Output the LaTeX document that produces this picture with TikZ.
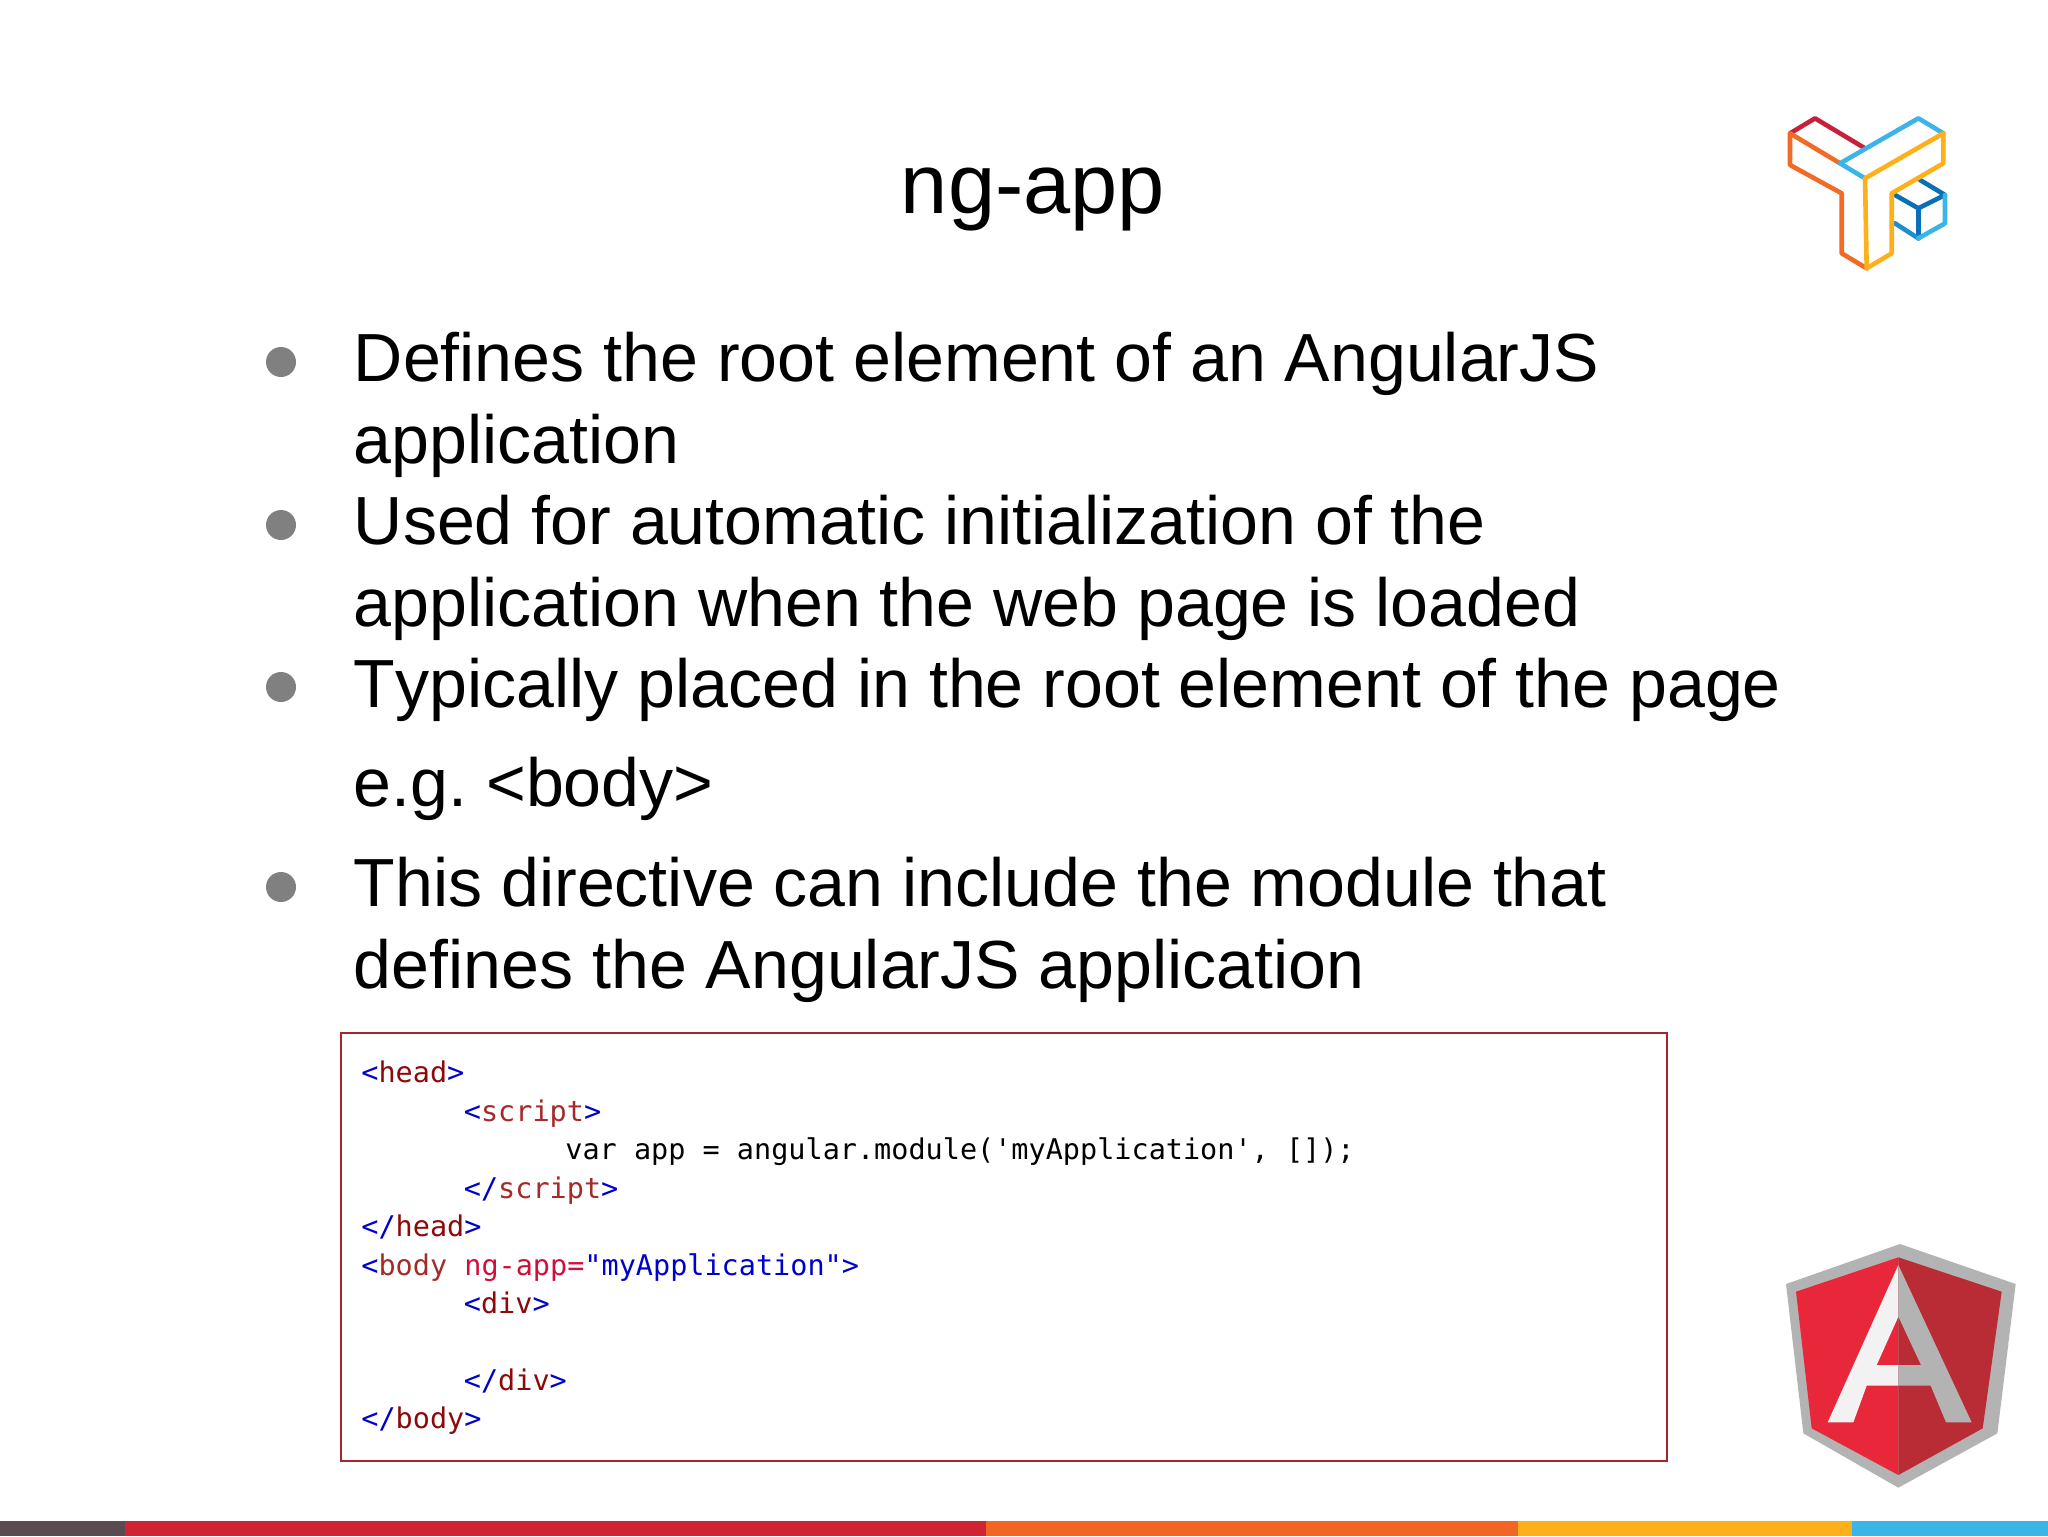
\documentclass[tikz,border=0pt]{standalone}
\usepackage{fontspec}
\setmainfont[Kerning=Off]{Liberation Sans}
\newfontfamily\codefont{DejaVu Sans Mono}
\frenchspacing
\definecolor{cred}{HTML}{C8203A}
\definecolor{corange}{HTML}{F26B26}
\definecolor{cyellow}{HTML}{FDB01A}
\definecolor{cblue}{HTML}{3BB4E7}
\definecolor{cdark}{HTML}{0B6FB7}
\definecolor{cmid}{HTML}{1B8DD0}
\definecolor{agrey}{HTML}{B3B3B3}
\definecolor{aleft}{HTML}{E8283A}
\definecolor{aright}{HTML}{B92B35}
\definecolor{awhite}{HTML}{F2F2F2}
\definecolor{kblue}{HTML}{0000CD}
\definecolor{kmaroon}{HTML}{8B0A0A}
\definecolor{kbrown}{HTML}{A52A2A}
\definecolor{kred}{HTML}{D0103A}
\definecolor{frame}{HTML}{A5262B}
\newcommand{\kb}[1]{\textcolor{kblue}{#1}}
\newcommand{\km}[1]{\textcolor{kmaroon}{#1}}
\newcommand{\kn}[1]{\textcolor{kbrown}{#1}}
\newcommand{\kr}[1]{\textcolor{kred}{#1}}
\tikzset{
  x=0.5pt,y=-0.5pt,
  titletext/.style={anchor=base,inner sep=0pt,font=\frenchspacing\fontsize{42.4}{42.4}\selectfont},
  bodytext/.style={anchor=base west,inner sep=0pt,font=\frenchspacing\fontsize{34.05}{34.05}\selectfont},
  codetext/.style={anchor=base west,inner sep=0pt,font=\frenchspacing\codefont\fontsize{14.25}{14.25}\selectfont},
  bulletdot/.style={circle,fill=black!50,inner sep=0pt,minimum size=15pt},
  logoline/.style={line width=2.3pt,line join=round,line cap=round},
}
\begin{document}
\begin{tikzpicture}
\useasboundingbox (0,0) rectangle (2048,1536);
\fill[white] (0,0) rectangle (2048,1536);
% bottom bar
\fill[fill={rgb,255:red,91;green,74;blue,80}] (0,1521) rectangle (125,1536);
\fill[fill={rgb,255:red,208;green,36;blue,51}] (125,1521) rectangle (986,1536);
\fill[fill={rgb,255:red,242;green,102;blue,37}] (986,1521) rectangle (1518,1536);
\fill[cyellow] (1518,1521) rectangle (1852,1536);
\fill[cblue] (1852,1521) rectangle (2048,1536);
% title
\node[titletext] (title) at (1033,213) {ng-app};
% bullets
\node[bulletdot] (b1) at (281,362) {};
\node[bulletdot] (b2) at (281,525) {};
\node[bulletdot] (b3) at (281,687) {};
\node[bulletdot] (b4) at (281,887) {};
\node[bodytext] (l1) at (353.5,381) {Defines the root element of an AngularJS};
\node[bodytext] (l2) at (353.5,463) {application};
\node[bodytext] (l3) at (353.5,544) {Used for automatic initialization of the};
\node[bodytext] (l4) at (353.5,626) {application when the web page is loaded};
\node[bodytext] (l5) at (353.5,707) {Typically placed in the root element of the page};
\node[bodytext] (l6) at (353.5,806) {e.g. <body>};
\node[bodytext] (l7) at (353.5,906) {This directive can include the module that};
\node[bodytext] (l8) at (353.5,988) {defines the AngularJS application};
% code box
\draw[frame,line width=1.3pt] (341,1033) rectangle (1667,1461);
\node[codetext] (c1) at (361,1082) {\kb{<}\km{head}\kb{>}};
\node[codetext] (c2) at (463.5,1121) {\kb{<}\kn{script}\kb{>}};
\node[codetext] (c3) at (565,1159) {var app = angular.module('myApplication', []);};
\node[codetext] (c4) at (463.5,1198) {\kb{</}\kn{script}\kb{>}};
\node[codetext] (c5) at (361,1236) {\kb{</}\km{head}\kb{>}};
\node[codetext] (c6) at (361,1275) {\kb{<}\kn{body} \kr{ng-app=}\kb{"myApplication">}};
\node[codetext] (c7) at (463.5,1313) {\kb{<}\km{div}\kb{>}};
\node[codetext] (c8) at (463.5,1390) {\kb{</}\km{div}\kb{>}};
\node[codetext] (c9) at (361,1428) {\kb{</}\km{body}\kb{>}};
% top right logo
\begin{scope}[shift={(1760,100)},x=0.16667pt,y=-0.16667pt,logoline]
\draw[cdark] (480,240) -- (555,285) -- (475,325) -- (405,285);
\draw[cdark] (475,325) -- (475,415);
\draw[cmid] (405,370) -- (475,415);
\draw[cblue] (555,285) -- (555,370) -- (475,415);
\draw[cred] (90,100) -- (165,55) -- (315,145);
\draw[corange] (240,190) -- (90,100) -- (90,195) -- (245,280) -- (245,460) -- (320,505);
\draw[cblue] (315,235) -- (240,190) -- (475,55) -- (550,100);
\draw[cyellow] (320,505) -- (315,235) -- (550,100) -- (550,190) -- (395,280) -- (395,460) -- cycle;
\end{scope}
% Angular logo
\begin{scope}[shift={(1760,1220)},x=0.16667pt,y=-0.16667pt]
\fill[agrey] (420,72) -- (767,192) -- (712,640) -- (415,803) -- (130,640) -- (78,192) -- cycle;
\fill[aleft] (415,112) -- (415,765) -- (155,625) -- (108,215) -- cycle;
\fill[aright] (415,112) -- (725,215) -- (668,625) -- (415,765) -- cycle;
\fill[awhite] (415,135) -- (415,290) -- (350,435) -- (415,435) -- (415,497) -- (320,497) -- (280,607) -- (203,607) -- cycle;
\fill[agrey] (415,135) -- (635,607) -- (558,607) -- (512,497) -- (415,497) -- (415,435) -- (483,435) -- (415,290) -- cycle;
\end{scope}
\end{tikzpicture}
\end{document}
